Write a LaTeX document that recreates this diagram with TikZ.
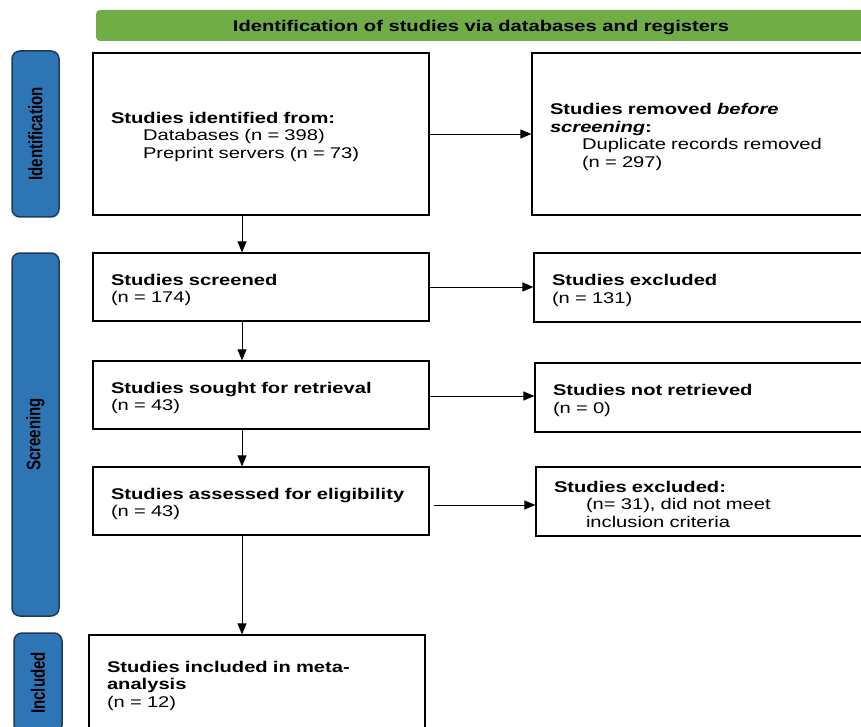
\documentclass[tikz,border=0pt]{standalone}
\usepackage{fontspec}
\setmainfont[FakeStretch=1.3]{Liberation Sans}
\newfontfamily\lblfont{Liberation Sans}
\usetikzlibrary{arrows.meta}
\definecolor{bannergreen}{HTML}{70AD47}
\definecolor{barblue}{HTML}{2E75B6}
\definecolor{barborder}{HTML}{1F3A5F}
\begin{document}
\begin{tikzpicture}[x=1pt,y=-1pt,
  pbox/.style={draw=black, line width=1.2pt, fill=white, align=left, inner xsep=18pt, inner ysep=0pt,
    font=\fontsize{15.5}{17.5}\selectfont, execute at begin node={\rule{0pt}{17pt}}},
  phase/.style={draw=barborder, line width=1.5pt, fill=barblue, rounded corners=8pt, inner sep=0pt,
    rotate=90, minimum height=47pt, font=\lblfont\bfseries\fontsize{15}{17}\selectfont},
  arr/.style={-{Triangle[length=11pt,width=9pt]}, line width=0.9pt},
  banner/.style={fill=bannergreen, rounded corners=4pt, inner sep=0pt, font=\bfseries\fontsize{15.5}{17.5}\selectfont}]
\clip (0,0) rectangle (861,727);
\fill[white] (0,0) rectangle (861,727);

\node[banner, minimum width=774pt, minimum height=31pt] (ban) at (483,25.5) {};
\node[font=\bfseries\fontsize{15.5}{17.5}\selectfont, anchor=base, inner sep=0pt] (title) at (481,31.5) {Identification of studies via databases and registers};

\node[phase, minimum width=166pt] (pid) at (35.5,134) {\scalebox{1}[1.3]{Identification}};
\node[phase, minimum width=363pt] (psc) at (35.5,434.5) {\scalebox{1}[1.3]{Screening}};
\node[phase, minimum width=100pt, minimum height=48pt] (pin) at (38,683) {\scalebox{1}[1.3]{Included}};

\node[pbox, text width=300pt, minimum height=162pt] (ident) at (261,134)
  {\textbf{Studies identified from:}\\\hspace*{32pt}Databases (n = 398)\\\hspace*{32pt}Preprint servers (n = 73)};
\node[pbox, text width=302pt, minimum height=162pt] (removed) at (701,134)
  {\textbf{Studies removed \textit{before}}\\\textbf{\textit{screening}:}\\\hspace*{32pt}Duplicate records removed\\\hspace*{32pt}(n = 297)};

\node[pbox, text width=300pt, minimum height=68pt] (screened) at (261,287)
  {\textbf{Studies screened}\\(n = 174)};
\node[pbox, text width=300pt, minimum height=69pt] (excl1) at (702,287.5)
  {\textbf{Studies excluded}\\(n = 131)};

\node[pbox, text width=300pt, minimum height=68pt] (sought) at (261,395)
  {\textbf{Studies sought for retrieval}\\(n = 43)};
\node[pbox, text width=299pt, minimum height=69pt] (notret) at (702.5,397.5)
  {\textbf{Studies not retrieved}\\(n = 0)};

\node[pbox, text width=300pt, minimum height=68pt] (assessed) at (261,501)
  {\textbf{Studies assessed for eligibility}\\(n = 43)};
\node[pbox, text width=298pt, minimum height=69pt] (excl2) at (703,501.5)
  {\textbf{Studies excluded:}\\\hspace*{32pt}(n= 31), did not meet\\\hspace*{32pt}inclusion criteria};

\node[pbox, text width=300pt, minimum height=96pt] (included) at (257,683)
  {\textbf{Studies included in meta-}\\\textbf{analysis}\\(n = 12)};

\draw[arr] (ident.east) -- (ident.east -| removed.west);
\draw[arr] (screened.east) -- (screened.east -| excl1.west);
\draw[arr] ([yshift=-1pt]sought.east) -- ([yshift=-1pt]sought.east -| notret.west);
\draw[arr] ([xshift=4pt,yshift=-4pt]assessed.east) -- ([yshift=-4pt]assessed.east -| excl2.west);

\draw[arr] ([xshift=-19pt]ident.south) -- ([xshift=-19pt]screened.north);
\draw[arr] ([xshift=-19pt]screened.south) -- ([xshift=-19pt]sought.north);
\draw[arr] ([xshift=-19pt]sought.south) -- ([xshift=-19pt]assessed.north);
\draw[arr] ([xshift=-19pt]assessed.south) -- ([xshift=-19pt]assessed.south |- included.north);
\end{tikzpicture}
\end{document}
